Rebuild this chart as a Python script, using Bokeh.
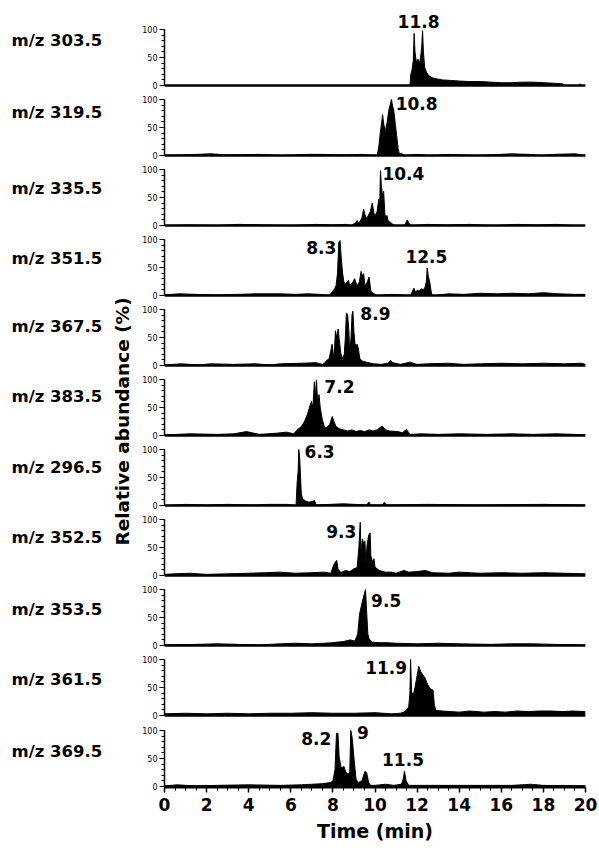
import math
from bokeh.plotting import figure
from bokeh.layouts import row, column
from bokeh.models import Range1d, FixedTicker, Label, Span
from bokeh.embed import file_html
from bokeh.resources import INLINE

# ---------------- data ----------------
mz_labels = ["m/z 303.5", "m/z 319.5", "m/z 335.5", "m/z 351.5", "m/z 367.5", "m/z 383.5",
             "m/z 296.5", "m/z 352.5", "m/z 353.5", "m/z 361.5", "m/z 369.5"]

x_major_ticks = [0, 2, 4, 6, 8, 10, 12, 14, 16, 18, 20]
x_minor_ticks = [0, 0.5, 1, 1.5, 2, 2.5, 3, 3.5, 4, 4.5, 5, 5.5, 6, 6.5, 7, 7.5, 8, 8.5, 9, 9.5, 10,
                 10.5, 11, 11.5, 12, 12.5, 13, 13.5, 14, 14.5, 15, 15.5, 16, 16.5, 17, 17.5, 18, 18.5,
                 19, 19.5, 20]
y_major_ticks = [0, 50, 100]
y_minor_ticks = [0, 10, 20, 30, 40, 50, 60, 70, 80, 90, 100]

# time (min) / relative abundance (%) for each trace
t_303 = [0, 11.66, 11.70, 11.76, 11.82, 11.86, 11.90, 11.96, 12.04, 12.12,
         12.18, 12.22, 12.26, 12.30, 12.36, 12.44, 12.55, 12.70, 12.90, 13.20,
         13.60, 14.00, 14.50, 15.00, 15.50, 16.00, 16.50, 17.00, 17.50, 18.00,
         18.50, 18.90, 19.00, 19.70, 19.75, 19.80, 20]
v_303 = [0, 0, 20, 28, 45, 93, 60, 42, 47, 40,
         55, 70, 98, 60, 32, 24, 18, 14, 12, 10,
         9, 8, 7, 7, 6, 5, 5, 6, 6, 5,
         4, 3, 0, 0, 3, 0, 0]

t_319 = [0, 1.5, 2.2, 3.0, 4.5, 5.6, 6.8, 7.5, 8.5, 9.3,
         10.1, 10.18, 10.25, 10.32, 10.36, 10.42, 10.5, 10.58, 10.66, 10.72, 10.78, 10.84, 10.9,
         10.97, 11.03, 11.1, 11.16,
         11.25, 11.4, 12.0, 12.6, 13.5, 14.9, 16.5, 17.3, 17.9, 18.5, 19.5, 20]
v_319 = [0, 2, 3, 1, 2, 0, 2, 2, 1, 2,
         0, 15, 40, 60, 73, 55, 44, 60, 82, 90, 100, 88, 78,
         55, 35, 12, 3,
         4, 0, 2, 0, 2, 0, 3, 2, 0, 2, 3, 0]

t_335 = [0, 1.2, 2.5, 3.5, 4.8, 6.0, 7.2, 8.0, 8.6, 8.9,
         8.98, 9.1, 9.15, 9.22, 9.3, 9.38, 9.46, 9.52, 9.6, 9.68, 9.78, 9.87, 9.95, 10.02,
         10.1, 10.18, 10.22, 10.26, 10.3, 10.36, 10.41, 10.47, 10.52, 10.57, 10.62, 10.73,
         10.85, 10.95,
         11.4, 11.48, 11.53, 11.6, 11.7,
         12.5, 13.4, 14.5, 15.6, 16.8, 17.7, 18.6, 19.4, 20]
v_335 = [0, 1, 0, 2, 1, 0, 2, 1, 2, 0,
         3, 5, 9, 4, 8, 14, 29, 20, 12, 18, 25, 40, 22, 18,
         25, 47, 30, 98, 73, 50, 61, 20, 12, 18, 8, 6,
         2, 0,
         0, 6, 10, 5, 0,
         2, 1, 2, 0, 2, 1, 2, 0, 0]

t_351 = [0, 0.7, 1.5, 2.4, 3.5, 4.3, 5.5, 6.2, 6.8, 7.4,
         7.85, 7.92, 8.0, 8.08, 8.15, 8.22, 8.28, 8.34, 8.4, 8.46, 8.52, 8.6, 8.68, 8.74, 8.8,
         8.88, 8.95, 9.03, 9.1, 9.18, 9.26, 9.34, 9.4, 9.46, 9.52, 9.58, 9.65, 9.72, 9.8, 9.9,
         10.02, 10.1,
         10.8, 11.3,
         11.7, 11.78, 11.85, 11.92, 12.0, 12.1, 12.2, 12.3, 12.38, 12.44, 12.48, 12.53, 12.6,
         12.68, 12.75,
         13.5, 14.2, 15.0, 15.8, 16.5, 17.3, 18.0, 18.7, 19.5, 20]
v_351 = [1, 3, 2, 1, 2, 3, 3, 2, 3, 2,
         0, 5, 8, 12, 18, 40, 95, 98, 65, 40, 24, 20, 25, 27, 18,
         21, 24, 30, 22, 18, 25, 43, 35, 39, 18, 20, 26, 33, 8, 4,
         2, 0,
         2, 1,
         0, 8, 13, 6, 9, 8, 12, 10, 15, 25, 49, 35, 24,
         4, 0,
         3, 2, 4, 3, 4, 3, 5, 3, 2, 2]

t_367 = [0, 0.8, 1.6, 2.2, 3.3, 4.3, 5.0, 5.5, 6.5, 7.2,
         7.5, 7.57, 7.7, 7.82, 7.89, 7.96, 8.02, 8.06, 8.12, 8.18, 8.25, 8.3, 8.38, 8.46, 8.54,
         8.6, 8.64, 8.7, 8.76, 8.8, 8.86, 8.91, 8.95, 9.0, 9.05, 9.12, 9.15, 9.2, 9.28, 9.4,
         9.6, 9.8, 9.93,
         10.3, 10.6, 10.74, 10.85, 11.2, 11.66, 12.0, 12.5, 13.5, 14.2, 15.0, 16.0, 17.0, 18.0,
         19.0, 19.8, 20]
v_367 = [1, 3, 1, 3, 2, 3, 1, 3, 4, 5,
         2, 3, 9, 12, 24, 38, 20, 15, 62, 50, 65, 47, 21, 12, 20,
         55, 94, 91, 60, 21, 50, 91, 97, 60, 38, 36, 38, 32, 12, 8,
         6, 4, 3,
         2, 4, 9, 5, 2, 6, 2, 3, 4, 2, 3, 4, 3, 4,
         3, 4, 2]

t_383 = [0, 1.2, 2.5, 3.3, 3.9, 4.5, 5.3, 5.8, 6.14,
         6.3, 6.5, 6.65, 6.78, 6.88, 6.98, 7.05, 7.12, 7.17, 7.22,
         7.28, 7.34, 7.4, 7.5, 7.62, 7.75, 7.85, 7.97, 8.05, 8.15,
         8.3, 8.51, 8.7, 8.9, 9.1, 9.3, 9.5, 9.72, 9.9, 10.1,
         10.34, 10.5, 10.7, 11.08, 11.3, 11.5, 11.65,
         12.2, 13.0, 14.0, 15.3, 16.5, 17.5, 18.6, 19.5, 20]
v_383 = [1, 3, 2, 3, 7, 2, 4, 6, 3,
         10, 16, 25, 37, 49, 61, 50, 96, 70, 99,
         55, 73, 49, 28, 13, 16, 20, 34, 25, 16,
         12, 10, 8, 10, 7, 9, 7, 10, 8, 10,
         17, 10, 8, 7, 5, 11, 2,
         3, 2, 3, 2, 3, 2, 3, 2, 1]

t_296 = [0, 1.0, 2.0, 3.0, 4.2, 5.0, 5.8, 6.25,
         6.3, 6.35, 6.38, 6.42, 6.45, 6.5, 6.56, 6.7, 6.85, 7.0,
         7.13, 7.2, 8.5, 9.6, 9.71, 9.8, 10.35, 10.45, 10.55,
         12.5, 15.0, 18.0, 20]
v_296 = [0, 2, 1, 2, 1, 2, 2, 0,
         40, 62, 100, 86, 62, 21, 12, 8, 6, 7,
         9, 1, 3, 1, 6, 1, 1, 6, 1,
         2, 1, 2, 1]

t_352 = [0, 0.5, 1.2, 2.0, 3.0, 4.0, 4.8, 5.5, 6.2, 7.0,
         7.6, 7.9, 8.05, 8.12, 8.18, 8.24, 8.35, 8.43, 8.6, 8.8,
         9.0, 9.15, 9.23, 9.3, 9.33, 9.4, 9.45, 9.52, 9.57, 9.62,
         9.7, 9.77, 9.8, 9.88, 9.95, 10.0, 10.2, 10.5, 10.8, 11.0,
         11.37, 11.6, 12.0, 12.4, 12.7, 13.5, 14.0, 15.0, 16.0, 17.0,
         18.0, 19.0, 20]
v_352 = [2, 3, 4, 2, 3, 4, 5, 6, 4, 5,
         6, 4, 20, 24, 27, 12, 6, 6, 9, 7,
         12, 14, 48, 95, 42, 65, 58, 62, 19, 54,
         72, 76, 36, 24, 30, 15, 9, 6, 6, 4,
         9, 6, 7, 9, 5, 4, 6, 4, 5, 4,
         5, 4, 3]

t_353 = [0, 1.5, 2.5, 3.5, 4.5, 5.5, 6.2, 7.0, 7.57, 8.0,
         8.2, 8.5, 8.7, 8.84, 9.0, 9.06, 9.18, 9.27, 9.39, 9.45,
         9.55, 9.6, 9.66, 9.72, 9.85, 10.2, 10.57, 11.0, 12.0, 13.0,
         14.0, 15.5, 16.5, 17.5, 18.5, 20]
v_353 = [1, 2, 3, 2, 1, 3, 4, 3, 4, 5,
         6, 7, 9, 10, 8, 9, 21, 57, 77, 86,
         100, 62, 21, 12, 6, 5, 5, 4, 3, 4,
         3, 2, 3, 3, 2, 1]

t_361 = [0, 1, 2, 3, 4, 5, 6, 7, 8, 9, 10,
         10.8, 11.2, 11.37, 11.5, 11.6, 11.66, 11.69, 11.74, 11.82,
         11.9, 11.98, 12.08, 12.16, 12.26, 12.38, 12.5, 12.62, 12.76, 12.82,
         12.9, 13.2, 13.59, 14.0, 14.5, 15.17, 15.7, 16.2, 16.76, 17.3,
         17.8, 18.35, 18.9, 19.4, 19.94, 20]
v_361 = [3, 4, 3, 4, 3, 4, 4, 5, 4, 4, 5,
         3, 4, 6, 10, 15, 40, 100, 42, 36,
         50, 67, 88, 79, 73, 67, 55, 48, 45, 18,
         9, 8, 7, 6, 8, 6, 7, 6, 8, 7,
         8, 8, 7, 8, 7, 7]

t_369 = [0, 0.6, 1.5, 2.5, 4.0, 5.5, 6.5, 7.0, 7.5, 7.89,
         8.0, 8.1, 8.17, 8.24, 8.3, 8.38, 8.44, 8.52, 8.6, 8.7,
         8.8, 8.85, 8.92, 9.0, 9.1, 9.2, 9.38, 9.52, 9.6, 9.7,
         9.8, 10.0, 10.5, 10.9, 11.25, 11.34, 11.4, 11.48, 11.6, 12.5,
         14.0, 15.2, 16.5, 17.4, 18.0, 20]
v_369 = [1, 3, 1, 2, 3, 2, 3, 4, 5, 7,
         10, 30, 95, 95, 51, 36, 33, 36, 27, 22,
         25, 100, 86, 51, 13, 7, 10, 27, 25, 7,
         2, 2, 4, 2, 4, 13, 27, 10, 2, 2,
         2, 2, 2, 4, 2, 1]

# peak annotations: text, time, abundance (label centre)
peak_text = [["11.8"], ["10.8"], ["10.4"], ["8.3", "12.5"], ["8.9"], ["7.2"],
             ["6.3"], ["9.3"], ["9.5"], ["11.9"], ["8.2", "9", "11.5"]]
peak_x = [[12.07], [11.98], [11.35], [7.45, 12.44], [10.02], [8.31],
          [7.37], [8.40], [10.53], [10.53], [7.21, 9.43, 11.33]]
peak_y = [[114], [92], [93], [85, 69], [92], [87],
          [96], [79], [80], [85], [85, 96, 48]]

traces_t = [t_303, t_319, t_335, t_351, t_367, t_383, t_296, t_352, t_353, t_361, t_369]
traces_v = [v_303, v_319, v_335, v_351, v_367, v_383, v_296, v_352, v_353, v_361, v_369]

# ---------------- layout constants ----------------
FONT = "DejaVu Sans"
PAGE_H = 848
LEFT_W = 135
PANEL_W = 464
K = 100.0 / 56.0          # abundance units per pixel (0..100 spans 56 px)
mz_label_px = [40, 112, 188, 258, 326, 396, 467, 537, 609, 679, 751]

# left column with the m/z labels and the shared y-axis title
lf = figure(width=LEFT_W, height=PAGE_H, x_range=Range1d(0, LEFT_W), y_range=Range1d(0, PAGE_H),
            x_axis_location=None, y_axis_location=None, min_border=0,
            toolbar_location=None, output_backend="svg", outline_line_color=None)
lf.grid.visible = False
for lab, ypx in zip(mz_labels, mz_label_px):
    lf.add_layout(Label(x=11, y=PAGE_H - ypx, text=lab, text_font=FONT, text_font_style="bold",
                        text_font_size="16.5px", text_align="left", text_baseline="middle",
                        text_color="black"))
lf.add_layout(Label(x=122, y=PAGE_H - 421, text="Relative abundance (%)", angle=math.pi / 2,
                    text_font=FONT, text_font_style="bold", text_font_size="18.5px",
                    text_align="center", text_baseline="middle", text_color="black"))

panels = []
n = len(traces_t)
for i in range(n):
    t, v = traces_t[i], traces_v[i]
    assert len(t) == len(v), (i, len(t), len(v))
    first, last = i == 0, i == n - 1
    if first:
        frame_h, below_zero, border_b = 88, 3, 5
    elif last:
        frame_h, below_zero, border_b = 64, 1, 61
    else:
        frame_h, below_zero, border_b = 65, 3, 5
    y0 = -below_zero * K
    y1 = y0 + frame_h * K
    p = figure(width=PANEL_W, height=frame_h + border_b,
               x_range=Range1d(0, 20), y_range=Range1d(y0, y1),
               min_border_left=29, min_border_right=14, min_border_top=0, min_border_bottom=border_b,
               x_axis_location="below" if last else None,
               toolbar_location=None, output_backend="svg")
    p.grid.visible = False
    p.outline_line_color = None

    p.varea(x=t, y1=0, y2=v, fill_color="black")
    p.line(x=t, y=v, line_color="black", line_width=1)
    p.add_layout(Span(location=0, dimension="width", line_color="black", line_width=2.5))

    ya = p.yaxis[0]
    ya.ticker = FixedTicker(ticks=y_major_ticks, minor_ticks=y_minor_ticks)
    ya.bounds = (0, 100)
    ya.axis_line_width = 1.5
    ya.axis_line_color = "black"
    ya.major_tick_out = 5
    ya.major_tick_in = 0
    ya.minor_tick_out = 3
    ya.minor_tick_in = 0
    ya.major_tick_line_color = "black"
    ya.minor_tick_line_color = "black"
    ya.major_label_text_font = FONT
    ya.major_label_text_font_size = "8px"
    ya.major_label_text_color = "black"
    ya.major_label_standoff = 2

    if last:
        xa = p.xaxis[0]
        xa.ticker = FixedTicker(ticks=x_major_ticks, minor_ticks=x_minor_ticks)
        xa.axis_line_width = 2
        xa.axis_line_color = "black"
        xa.major_tick_out = 5
        xa.major_tick_in = 0
        xa.minor_tick_out = 3
        xa.minor_tick_in = 0
        xa.major_tick_line_width = 1.5
        xa.major_tick_line_color = "black"
        xa.minor_tick_line_color = "black"
        xa.major_label_text_font = FONT
        xa.major_label_text_font_style = "bold"
        xa.major_label_text_font_size = "17px"
        xa.major_label_text_color = "black"
        xa.major_label_standoff = 5
        xa.axis_label = "Time (min)"
        xa.axis_label_text_font = FONT
        xa.axis_label_text_font_style = "bold"
        xa.axis_label_text_font_size = "19px"
        xa.axis_label_text_color = "black"
        xa.axis_label_standoff = 6

    for txt, px, py in zip(peak_text[i], peak_x[i], peak_y[i]):
        p.add_layout(Label(x=px, y=py, text=txt, text_font=FONT, text_font_style="bold",
                           text_font_size="17px", text_align="center", text_baseline="middle",
                           text_color="black"))
    panels.append(p)

layout = row(lf, column(*panels, spacing=0), spacing=0)
open("out.html", "w").write(file_html(layout, INLINE))
